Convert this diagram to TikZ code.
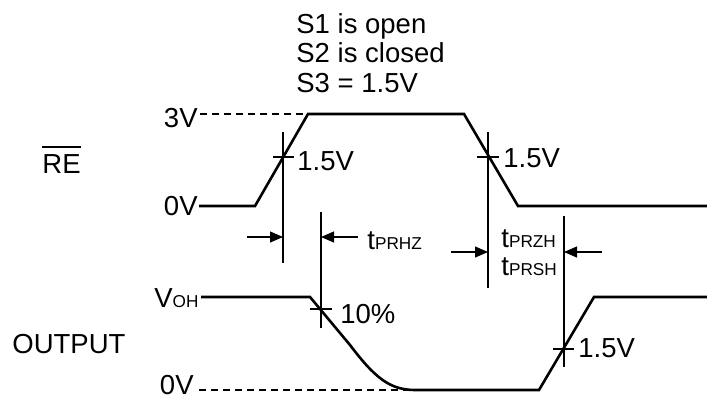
\documentclass[tikz,border=0pt]{standalone}
\usepackage{fontspec}
\setmainfont{Liberation Sans}
\usetikzlibrary{arrows.meta}
\newcommand\smallsub[1]{{\fontsize{8.6pt}{8.6pt}\selectfont #1}}
\begin{document}
\begin{tikzpicture}[x=0.5pt,y=-0.5pt,
  lbl/.style={inner sep=0pt,font=\fontsize{13.75pt}{14.75pt}\selectfont},
  sig/.style={line width=1.3pt,line join=miter},
  dsh/.style={line width=1.1pt,dash pattern=on 3.5pt off 2.5pt},
  thin/.style={line width=0.55pt},
  arr/.style={line width=0.55pt,-{Triangle[length=6.5pt,width=5.5pt]}}]
\useasboundingbox (0,0) rectangle (707,398);
% header text
\node[lbl,anchor=base west] (s1) at (296,33) {S1 is open};
\node[lbl,anchor=base west] (s2) at (296,62) {S2 is closed};
\node[lbl,anchor=base west] (s3) at (296,92) {S3 = 1.5V};
% left labels
\node[lbl,anchor=base west] (re) at (42,173) {RE};
\draw[line width=1pt] ([yshift=3.5pt]re.north west) -- ([yshift=3.5pt]re.north east);
\node[lbl,anchor=base west] (out) at (12,353) {OUTPUT};
\node[lbl,anchor=base east] (l3v) at (198,127) {3V};
\node[lbl,anchor=base east] (l0v) at (198,215) {0V};
\node[lbl,anchor=base west] (voh) at (154,307) {V\smallsub{OH}};
\node[lbl,anchor=base east] (l0vb) at (194,394) {0V};
% top waveform (RE)
\coordinate (a0) at (199,206);
\coordinate (a1) at (255,206);
\coordinate (a2) at (308,114);
\coordinate (a3) at (464,114);
\coordinate (a4) at (518,206);
\coordinate (a5) at (707,206);
\coordinate (d0) at (200,114);
\draw[sig] (a0) -- (a1) -- (a2) -- (a3) -- (a4) -- (a5);
\draw[dsh] (d0) -- (a2);
% bottom waveform (OUTPUT)
\coordinate (b0) at (201,297);
\coordinate (b1) at (310,297);
\coordinate (b2) at (350,345);
\coordinate (b3) at (415,390);
\coordinate (b4) at (539,390);
\coordinate (b5) at (594,297);
\coordinate (b6) at (707,297);
\coordinate (e0) at (199,390);
\draw[sig] (b0) -- (b1) -- (b2) .. controls (375,378) and (390,390) .. (b3) -- (b4) -- (b5) -- (b6);
\draw[dsh] (e0) -- (b3);
% vertical reference lines
\coordinate (v1t) at (283,132); \coordinate (v1b) at (283,263);
\coordinate (v2t) at (321,212); \coordinate (v2b) at (321,328);
\coordinate (v3t) at (488,132); \coordinate (v3b) at (488,288);
\coordinate (v4t) at (564,216); \coordinate (v4b) at (564,367);
\draw[thin] (v1t) -- (v1b);
\draw[thin] (v2t) -- (v2b);
\draw[thin] (v3t) -- (v3b);
\draw[thin] (v4t) -- (v4b);
% ticks
\coordinate (t1l) at (273,157); \coordinate (t1r) at (294,157);
\coordinate (t2l) at (477,157); \coordinate (t2r) at (499,157);
\coordinate (t3l) at (310,309); \coordinate (t3r) at (332,309);
\coordinate (t4l) at (553,349); \coordinate (t4r) at (574,349);
\draw[thin] (t1l) -- (t1r);
\draw[thin] (t2l) -- (t2r);
\draw[thin] (t3l) -- (t3r);
\draw[thin] (t4l) -- (t4r);
% level labels
\node[lbl,anchor=base west] (m1) at (297,170) {1.5V};
\node[lbl,anchor=base west] (m2) at (503,167) {1.5V};
\node[lbl,anchor=base west] (m3) at (340,323) {10\%};
\node[lbl,anchor=base west] (m4) at (578,357) {1.5V};
% timing arrows
\coordinate (p1s) at (247,237); \coordinate (p1e) at (283,237);
\coordinate (p2s) at (358,237); \coordinate (p2e) at (321,237);
\coordinate (p3s) at (451,252); \coordinate (p3e) at (488,252);
\coordinate (p4s) at (602,252); \coordinate (p4e) at (564,252);
\draw[arr] (p1s) -- (p1e);
\draw[arr] (p2s) -- (p2e);
\draw[arr] (p3s) -- (p3e);
\draw[arr] (p4s) -- (p4e);
\node[lbl,anchor=base west] (tphz) at (367,249) {t\smallsub{PRHZ}};
\node[lbl,anchor=base west] (tpzh) at (501,247) {t\smallsub{PRZH}};
\node[lbl,anchor=base west] (tpsh) at (501,275) {t\smallsub{PRSH}};
\end{tikzpicture}
\end{document}
